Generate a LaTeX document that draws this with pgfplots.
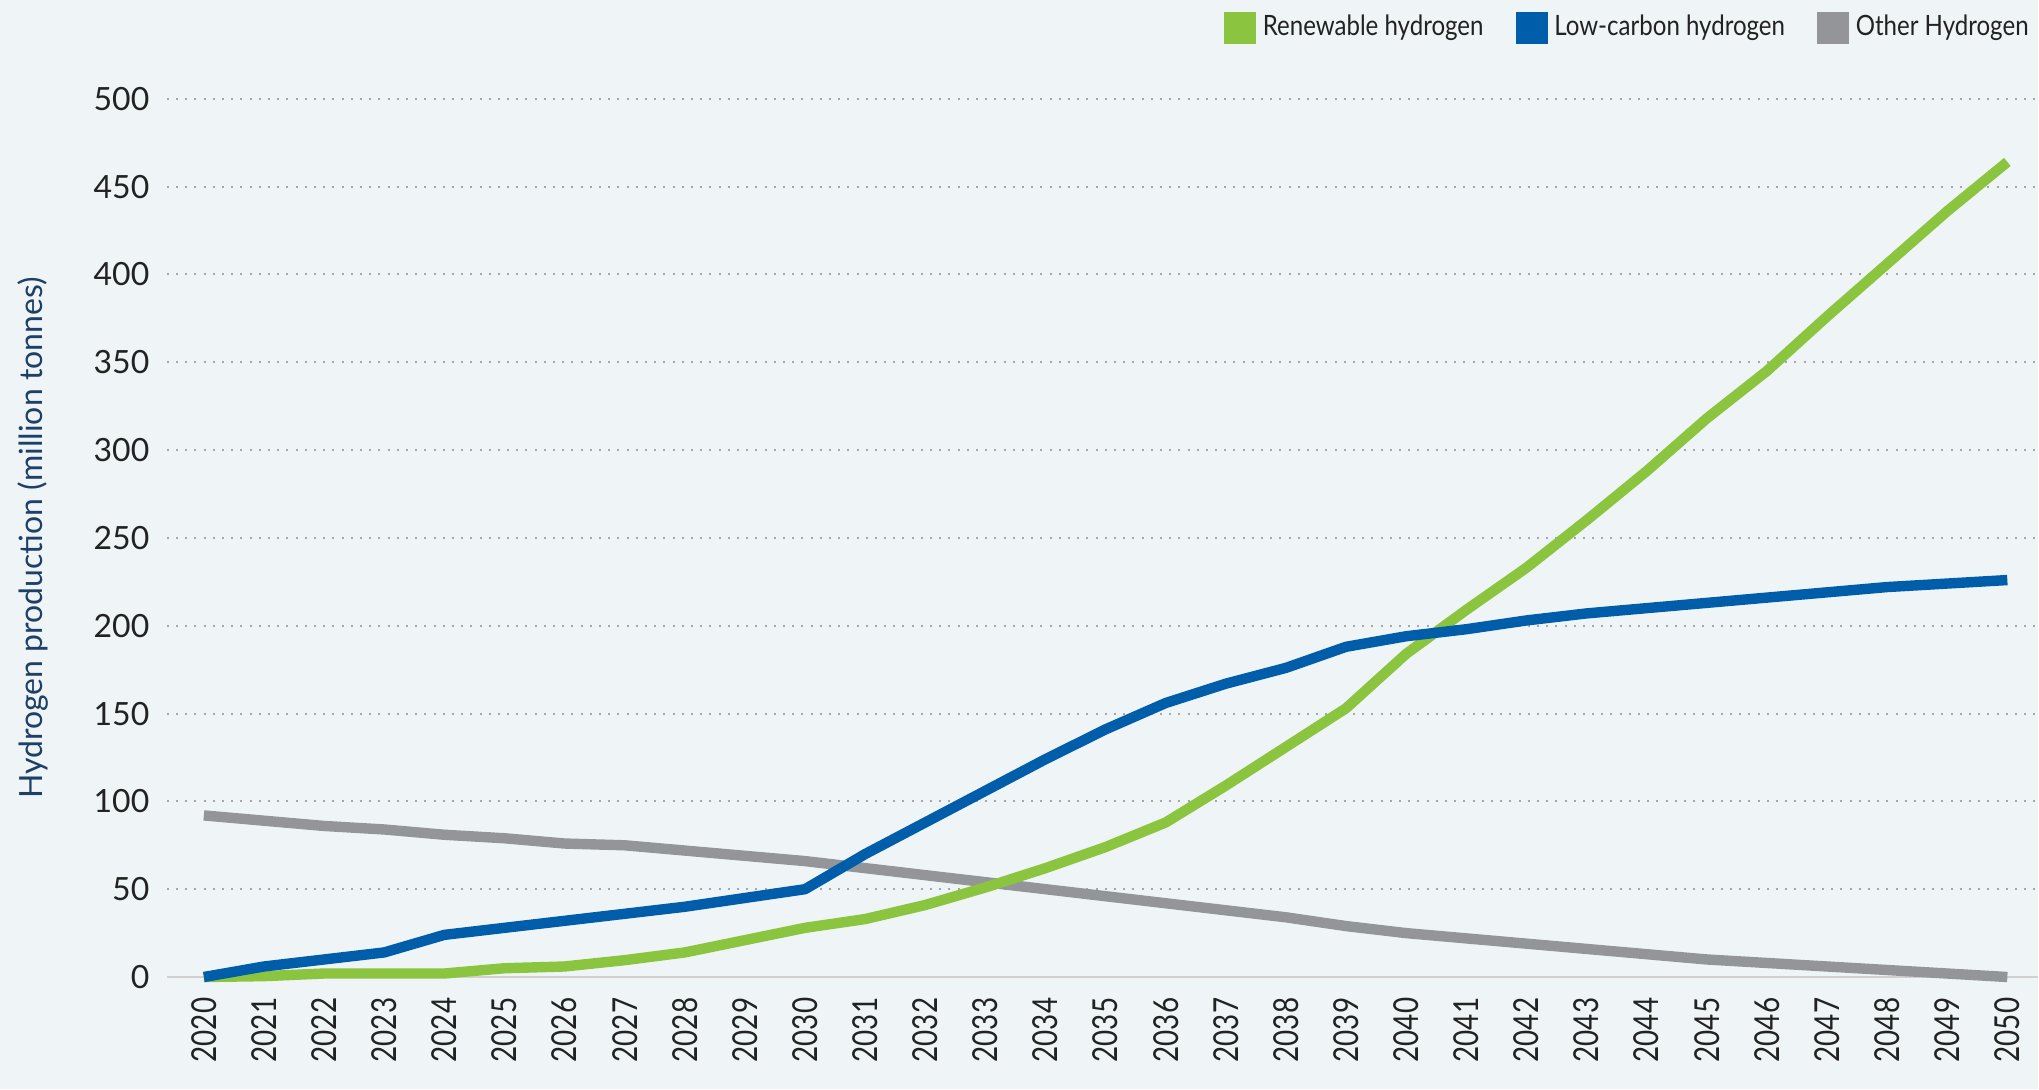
\documentclass[border=0pt]{standalone}
\usepackage{pgfplots}
\pgfplotsset{compat=1.18}
\usepackage{fontspec}
\setmainfont{Lato}
\newfontfamily\condfont[FakeStretch=0.86]{Lato}
\newfontfamily\xfont[FakeStretch=0.81]{Lato}
\definecolor{bg}{HTML}{EFF4F7}
\definecolor{cgreen}{HTML}{8BC53F}
\definecolor{cblue}{HTML}{005DAA}
\definecolor{cgrey}{HTML}{939598}
\definecolor{ylab}{HTML}{1E3F66}
\definecolor{txt}{HTML}{222222}
\begin{document}
\begin{tikzpicture}
\fill[bg] (-41.75pt,-28.1pt) rectangle (468pt,244.4pt);
\begin{axis}[
  at={(0,0)}, anchor=south west,
  scale only axis, width=468pt, height=219.7pt,
  xmin=2019.385, xmax=2050.507, ymin=0, ymax=500,
  axis line style={draw=none},
  major tick length=0pt,
  xtick={2020,2021,...,2050},
  ytick={50,100,...,500},
  extra y ticks={0},
  extra y tick style={grid style={solid, color=black!18, line width=0.6pt}},
  ymajorgrids,
  grid style={color=black!35, line width=0.5pt, dash pattern=on 0.5pt off 1.8pt},
  /pgf/number format/assume math mode=true,
  /pgf/number format/1000 sep={},
  tick label style={text=txt},
  yticklabel style={anchor=east, inner sep=0pt, xshift=-4.2pt, font=\fontsize{8}{9.6}\selectfont},
  xticklabel style={rotate=90, anchor=east, inner sep=0pt, xshift=-5pt, font=\xfont\fontsize{8.6}{10}\selectfont},
  ylabel={Hydrogen production (million tonnes)},
  ylabel style={at={(rel axis cs:0,0.5)}, anchor=center, yshift=33.6pt, font=\fontsize{8}{9.6}\selectfont, text=ylab},
  legend columns=3,
  legend style={at={(rel axis cs:1,1)}, anchor=east, yshift=17.7pt, xshift=-0.5pt,
    draw=none, fill=none, inner sep=0pt, font=\condfont\fontsize{7}{8.4}\selectfont, text=txt,
    nodes={inner sep=1.6pt},
    /tikz/every even column/.append style={column sep=6.5pt}},
  legend cell align=left,
  clip=false,
]
\addlegendimage{legend image code/.code={\fill[cgreen] (0pt,-3.8pt) rectangle (7.6pt,3.8pt);}}
\addlegendentry{Renewable hydrogen}
\addlegendimage{legend image code/.code={\fill[cblue] (0pt,-3.8pt) rectangle (7.6pt,3.8pt);}}
\addlegendentry{Low-carbon hydrogen}
\addlegendimage{legend image code/.code={\fill[cgrey] (0pt,-3.8pt) rectangle (7.6pt,3.8pt);}}
\addlegendentry{Other Hydrogen}

% Other hydrogen
\addplot[forget plot, color=cgrey, line width=2.6pt, line join=round] coordinates {
(2020,92)(2021,89)(2022,86)(2023,84)(2024,81)(2025,79)(2026,76)(2027,75)(2028,72)(2029,69)
(2030,66)(2031,62)(2032,58)(2033,54)(2034,50)(2035,46)(2036,42)(2037,38)(2038,34)(2039,29)
(2040,25)(2041,22)(2042,19)(2043,16)(2044,13)(2045,10)(2046,8)(2047,6)(2048,4)(2049,2)(2050,0)};
% Renewable hydrogen
\addplot[forget plot, color=cgreen, line width=2.6pt, line join=round] coordinates {
(2020,0)(2021,0.5)(2022,2)(2023,2)(2024,2)(2025,5)(2026,6)(2027,9.6)(2028,14)(2029,21)
(2030,28)(2031,33)(2032,41)(2033,51)(2034,62)(2035,74)(2036,88)(2037,109)(2038,131)(2039,153)
(2040,184)(2041,209)(2042,233)(2043,260)(2044,288)(2045,318)(2046,345)(2047,376)(2048,406)(2049,436)(2050,464)};
% Low-carbon hydrogen
\addplot[forget plot, color=cblue, line width=2.6pt, line join=round] coordinates {
(2020,0)(2021,6)(2022,10)(2023,14)(2024,24)(2025,28)(2026,32)(2027,36)(2028,40)(2029,45)
(2030,50)(2031,70)(2032,88)(2033,106)(2034,124)(2035,141)(2036,156)(2037,167)(2038,176)(2039,188)
(2040,194)(2041,198)(2042,203)(2043,207)(2044,210)(2045,213)(2046,216)(2047,219)(2048,222)(2049,224)(2050,226)};
\end{axis}
\end{tikzpicture}
\end{document}
